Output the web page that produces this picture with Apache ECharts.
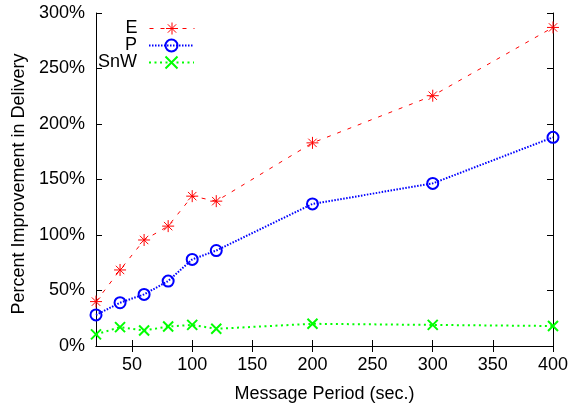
<!DOCTYPE html>
<html>
<head>
<meta charset="utf-8">
<script src="https://cdn.jsdelivr.net/npm/echarts@6/dist/echarts.min.js"></script>
<style>
    html, body { margin: 0; padding: 0; background: #fff; }
    #chart { width: 580px; height: 403px; }
</style>
</head>
<body>
<div id="chart"></div>
<script>
// data
var periods = [20, 40, 60, 80, 100, 120, 200, 300, 400];
var valuesE = [40, 68.5, 95.5, 108, 135, 130.5, 183, 225.5, 287];
var valuesP = [28, 39, 46.5, 58.5, 78, 86, 128, 146.5, 188];
var valuesSnW = [10.5, 17, 14, 17.5, 19, 15.5, 20, 19, 18];
var xTicks = [50, 100, 150, 200, 250, 300, 350, 400];

var FONT = 'Liberation Sans, Arial, sans-serif';
var STAR = 'path://M5 0L5 10M0 5L10 5M1.5 1.5L8.5 8.5M1.5 8.5L8.5 1.5';
var RING = 'path://M0 5A5 5 0 1 1 10 5A5 5 0 1 1 0 5Z';
var CROSS = 'path://M0 0L10 10M0 10L10 0';

function pairs(vals) {
    return periods.map(function (p, i) { return [p, vals[i]]; });
}

var chart = echarts.init(document.getElementById('chart'));

function makeLegend(name, top, color, lineType, lineWidth, symWidth) {
    return {
        data: [name],
        right: 385,
        top: top,
        padding: 0,
        align: 'right',
        itemWidth: 45,
        itemHeight: 15,
        selectedMode: false,
        textStyle: {
            fontSize: 18,
            fontFamily: FONT,
            color: '#000',
            lineHeight: 18,
            padding: [0, 7, 0, 0]
        },
        itemStyle: { color: 'transparent', borderColor: color, borderWidth: symWidth },
        lineStyle: { color: color, width: lineWidth, type: lineType }
    };
}

function getOption() {
    return {
        animation: false,
        grid: { left: 96, right: 27, top: 13, bottom: 57, outerBoundsMode: 'none' },
        legend: [
            makeLegend('E', 19.5, '#ff0000', [4, 7], 1, 1),
            makeLegend('P', 36.5, '#0000ff', [1.5, 1.5], 2, 2),
            makeLegend('SnW', 53.5, '#00ff00', [2, 3.5], 2, 2)
        ],
        xAxis: [
            {
                type: 'value',
                min: 20,
                max: 400,
                name: 'Message Period (sec.)',
                nameLocation: 'middle',
                nameGap: 39,
                nameTextStyle: { fontSize: 18, fontFamily: FONT, color: '#000' },
                axisLine: { lineStyle: { color: '#000', width: 1 } },
                axisTick: { inside: true, length: 6, customValues: xTicks, lineStyle: { color: '#000' } },
                axisLabel: { customValues: xTicks, fontSize: 18, fontFamily: FONT, color: '#000', margin: 10 },
                splitLine: { show: false }
            },
            {
                type: 'value',
                position: 'top',
                min: 20,
                max: 400,
                axisLine: { lineStyle: { color: '#000', width: 1 } },
                axisTick: { inside: true, length: 6, customValues: xTicks, lineStyle: { color: '#000' } },
                axisLabel: { show: false },
                splitLine: { show: false }
            }
        ],
        yAxis: [
            {
                type: 'value',
                min: 0,
                max: 300,
                interval: 50,
                name: 'Percent Improvement in Delivery',
                nameLocation: 'middle',
                nameGap: 56,
                nameTextStyle: { fontSize: 18, fontFamily: FONT, color: '#000', padding: [0, 9, 0, 0] },
                axisLine: { show: true, lineStyle: { color: '#000', width: 1 } },
                axisTick: { show: true, inside: true, length: 6, lineStyle: { color: '#000' } },
                axisLabel: { formatter: '{value}%', fontSize: 18, fontFamily: FONT, color: '#000', margin: 11 },
                splitLine: { show: false }
            },
            {
                type: 'value',
                position: 'right',
                min: 0,
                max: 300,
                interval: 50,
                axisLine: { show: true, lineStyle: { color: '#000', width: 1 } },
                axisTick: { show: true, inside: true, length: 6, lineStyle: { color: '#000' } },
                axisLabel: { show: false },
                splitLine: { show: false }
            }
        ],
        series: [
            {
                name: 'E',
                type: 'line',
                data: pairs(valuesE),
                symbol: STAR,
                symbolSize: 12,
                showAllSymbol: true,
                clip: false,
                z: 3,
                itemStyle: { color: 'transparent', borderColor: '#ff0000', borderWidth: 1 },
                lineStyle: { color: '#ff0000', width: 1, type: [4, 7] }
            },
            {
                name: 'P',
                type: 'line',
                data: pairs(valuesP),
                symbol: RING,
                symbolSize: 11,
                showAllSymbol: true,
                clip: false,
                z: 3,
                itemStyle: { color: 'transparent', borderColor: '#0000ff', borderWidth: 2 },
                lineStyle: { color: '#0000ff', width: 2, type: [1.5, 1.5] }
            },
            {
                name: 'SnW',
                type: 'line',
                data: pairs(valuesSnW),
                symbol: CROSS,
                symbolSize: 10,
                showAllSymbol: true,
                clip: false,
                z: 3,
                itemStyle: { color: 'transparent', borderColor: '#00ff00', borderWidth: 2 },
                lineStyle: { color: '#00ff00', width: 2, type: [2, 3.5] }
            }
        ]
    };
}

chart.setOption(getOption());
</script>
</body>
</html>
